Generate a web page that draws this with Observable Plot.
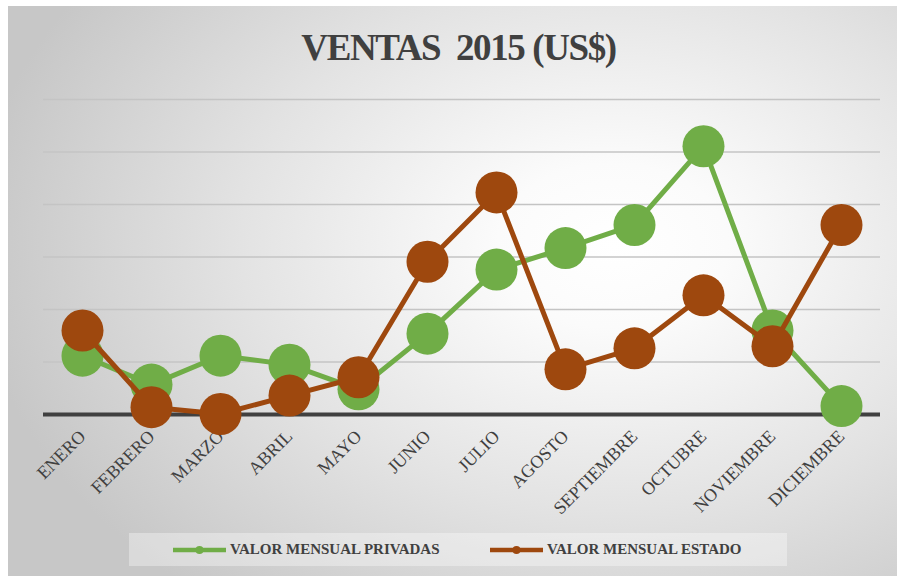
<!DOCTYPE html>
<html>
<head>
<meta charset="utf-8">
<script src="https://cdn.jsdelivr.net/npm/d3@7"></script>
<script src="https://cdn.jsdelivr.net/npm/@observablehq/plot@0.6"></script>
<style>
  html, body { margin: 0; padding: 0; background: #ffffff; width: 897px; height: 576px; overflow: hidden; }
  #chart {
    position: absolute; left: 8px; top: 6px; width: 889px; height: 570px;
    background: radial-gradient(ellipse 72% 80% at 68% 42%, #ffffff 0%, #fbfbfb 18%, #e3e3e3 58%, #c7c7c7 100%);
    font-family: "Liberation Serif", "Times New Roman", serif;
  }
  #title {
    position: absolute; left: 0; top: 23px; width: 889px; padding-left: 12px; box-sizing: border-box;
    text-align: center; font-size: 37px; line-height: 37px; font-weight: bold; color: #404040;
    letter-spacing: -1.4px; white-space: pre;
  }
  #plot { position: absolute; left: 0; top: 74px; }
  #legend {
    position: absolute; left: 121px; top: 527px; width: 658px; height: 33px;
    background: rgba(255,255,255,0.35);
  }
  .item { position: absolute; top: 0; height: 33px; display: flex; align-items: center; }
  .item span { font-size: 15px; font-weight: bold; color: #404040; margin-left: 4px; white-space: nowrap; }
</style>
</head>
<body>
<div id="chart">
  <div id="title">VENTAS  2015 (US$)</div>
  <div id="plot"></div>
  <div id="legend"></div>
</div>
<script>
const months = ["ENERO", "FEBRERO", "MARZO", "ABRIL", "MAYO", "JUNIO", "JULIO", "AGOSTO", "SEPTIEMBRE", "OCTUBRE", "NOVIEMBRE", "DICIEMBRE"];
const privadas = [11.2, 5.7, 11.2, 9.5, 4.8, 15.4, 27.6, 31.7, 36.1, 51.1, 16.0, 1.6];
const estado = [16.0, 1.4, 0.1, 3.6, 7.1, 29.1, 42.3, 8.6, 12.6, 22.7, 13.0, 36.1];
const seriesNames = ["VALOR MENSUAL PRIVADAS", "VALOR MENSUAL ESTADO"];
const seriesColors = ["#70AD47", "#9E480E"];
const gridTicks = [10, 20, 30, 40, 50, 60];

const serifStack = "'Liberation Serif', 'Times New Roman', serif";
const dPriv = months.map((m, i) => ({month: m, value: privadas[i]}));
const dEst = months.map((m, i) => ({month: m, value: estado[i]}));

const plot = Plot.plot({
  width: 889,
  height: 450,
  marginTop: 19,
  marginBottom: 116,
  marginLeft: 35,
  marginRight: 17,
  style: {background: "transparent", overflow: "visible", fontFamily: serifStack},
  x: {type: "point", domain: months, padding: 0.5, axis: null},
  y: {domain: [0, 60], axis: null},
  marks: [
    Plot.ruleY(gridTicks, {stroke: "#c4c4c4", strokeWidth: 1.5}),
    Plot.ruleY([0], {stroke: "#404040", strokeWidth: 4}),
    Plot.text(months, {x: d => d, y: () => 0, text: d => d, rotate: -45, textAnchor: "end", lineAnchor: "middle", dx: 0, dy: 19, fontSize: 18, fontFamily: serifStack, fill: "#404040"}),
    Plot.line(dPriv, {x: "month", y: "value", stroke: seriesColors[0], strokeWidth: 5}),
    Plot.dot(dPriv, {x: "month", y: "value", r: 21, fill: seriesColors[0]}),
    Plot.line(dEst, {x: "month", y: "value", stroke: seriesColors[1], strokeWidth: 5}),
    Plot.dot(dEst, {x: "month", y: "value", r: 21, fill: seriesColors[1]})
  ]
});
document.getElementById("plot").appendChild(plot);

const legend = document.getElementById("legend");
const lefts = [44, 361];
seriesNames.forEach((name, i) => {
  const item = document.createElement("div");
  item.className = "item";
  item.style.left = lefts[i] + "px";
  item.innerHTML = `<svg width="53" height="12"><line x1="0" y1="6" x2="53" y2="6" stroke="${seriesColors[i]}" stroke-width="4.5"/><circle cx="26.5" cy="6" r="4" fill="${seriesColors[i]}"/></svg><span>${name}</span>`;
  legend.appendChild(item);
});
</script>
</body>
</html>
